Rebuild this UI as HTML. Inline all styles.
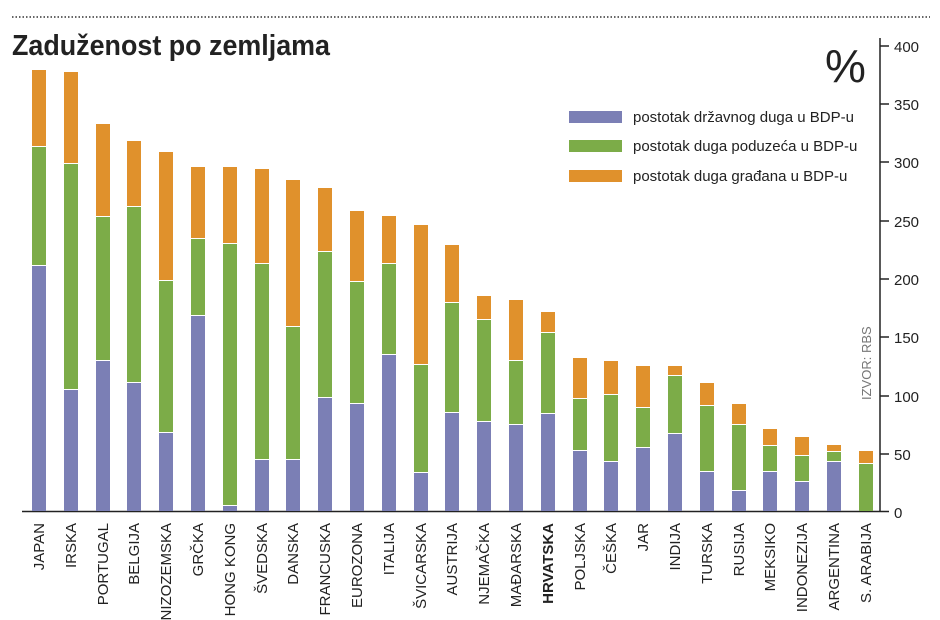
<!DOCTYPE html>
<html><head><meta charset="utf-8"><style>
body{margin:0;background:#fff;}
svg{display:block;font-family:"Liberation Sans",sans-serif;}
.b{fill:#7b7fb5}.g{fill:#7cac48}.o{fill:#e0912c}
.lab{font-size:15px;fill:#222;}
</style></head><body>
<svg width="940" height="620" viewBox="0 0 940 620">
<line x1="12" y1="17" x2="930" y2="17" stroke="#333" stroke-width="1.5" stroke-dasharray="1.5 2"/>
<text x="12" y="55" font-size="29" font-weight="bold" fill="#222" textLength="318" lengthAdjust="spacingAndGlyphs">Zaduženost po zemljama</text>
<text x="825" y="82" font-size="46" fill="#222">%</text>
<line x1="880" y1="38" x2="880" y2="512" stroke="#222" stroke-width="1.5"/>
<line x1="22" y1="511.5" x2="889" y2="511.5" stroke="#222" stroke-width="1.5"/>
<g stroke="#222" stroke-width="1.5">
<line x1="880" x2="889" y1="46" y2="46"/><line x1="880" x2="889" y1="104" y2="104"/><line x1="880" x2="889" y1="162" y2="162"/><line x1="880" x2="889" y1="221" y2="221"/><line x1="880" x2="889" y1="279" y2="279"/><line x1="880" x2="889" y1="337" y2="337"/><line x1="880" x2="889" y1="396" y2="396"/><line x1="880" x2="889" y1="454" y2="454"/>
</g>
<g font-size="15" fill="#222">
<text x="894" y="52">400</text><text x="894" y="110">350</text><text x="894" y="168">300</text><text x="894" y="227">250</text><text x="894" y="285">200</text><text x="894" y="343">150</text><text x="894" y="402">100</text><text x="894" y="460">50</text><text x="894" y="518">0</text>
</g>
<text transform="translate(871,400) rotate(-90)" font-size="13" fill="#777">IZVOR: RBS</text>
<rect x="569" y="111" width="53" height="12" class="b"/><text x="633" y="122" font-size="15" fill="#222">postotak državnog duga u BDP-u</text>
<rect x="569" y="140" width="53" height="12" class="g"/><text x="633" y="151" font-size="15" fill="#222">postotak duga poduzeća u BDP-u</text>
<rect x="569" y="170" width="53" height="12" class="o"/><text x="633" y="181" font-size="15" fill="#222">postotak duga građana u BDP-u</text>
<g id="bars"></g>
<g id="labels"></g>
<!-- bars -->
<g>
<rect class="b" x="32" y="266" width="14" height="245"/><rect class="g" x="32" y="147" width="14" height="118"/><rect class="o" x="32" y="70" width="14" height="76"/>
<rect class="b" x="64" y="390" width="14" height="121"/><rect class="g" x="64" y="164" width="14" height="225"/><rect class="o" x="64" y="72" width="14" height="91"/>
<rect class="b" x="96" y="361" width="14" height="150"/><rect class="g" x="96" y="217" width="14" height="143"/><rect class="o" x="96" y="124" width="14" height="92"/>
<rect class="b" x="127" y="383" width="14" height="128"/><rect class="g" x="127" y="207" width="14" height="175"/><rect class="o" x="127" y="141" width="14" height="65"/>
<rect class="b" x="159" y="433" width="14" height="78"/><rect class="g" x="159" y="281" width="14" height="151"/><rect class="o" x="159" y="152" width="14" height="128"/>
<rect class="b" x="191" y="316" width="14" height="195"/><rect class="g" x="191" y="239" width="14" height="76"/><rect class="o" x="191" y="167" width="14" height="71"/>
<rect class="b" x="223" y="506" width="14" height="5"/><rect class="g" x="223" y="244" width="14" height="261"/><rect class="o" x="223" y="167" width="14" height="76"/>
<rect class="b" x="255" y="460" width="14" height="51"/><rect class="g" x="255" y="264" width="14" height="195"/><rect class="o" x="255" y="169" width="14" height="94"/>
<rect class="b" x="286" y="460" width="14" height="51"/><rect class="g" x="286" y="327" width="14" height="132"/><rect class="o" x="286" y="180" width="14" height="146"/>
<rect class="b" x="318" y="398" width="14" height="113"/><rect class="g" x="318" y="252" width="14" height="145"/><rect class="o" x="318" y="188" width="14" height="63"/>
<rect class="b" x="350" y="404" width="14" height="107"/><rect class="g" x="350" y="282" width="14" height="121"/><rect class="o" x="350" y="211" width="14" height="70"/>
<rect class="b" x="382" y="355" width="14" height="156"/><rect class="g" x="382" y="264" width="14" height="90"/><rect class="o" x="382" y="216" width="14" height="47"/>
<rect class="b" x="414" y="473" width="14" height="38"/><rect class="g" x="414" y="365" width="14" height="107"/><rect class="o" x="414" y="225" width="14" height="139"/>
<rect class="b" x="445" y="413" width="14" height="98"/><rect class="g" x="445" y="303" width="14" height="109"/><rect class="o" x="445" y="245" width="14" height="57"/>
<rect class="b" x="477" y="422" width="14" height="89"/><rect class="g" x="477" y="320" width="14" height="101"/><rect class="o" x="477" y="296" width="14" height="23"/>
<rect class="b" x="509" y="425" width="14" height="86"/><rect class="g" x="509" y="361" width="14" height="63"/><rect class="o" x="509" y="300" width="14" height="60"/>
<rect class="b" x="541" y="414" width="14" height="97"/><rect class="g" x="541" y="333" width="14" height="80"/><rect class="o" x="541" y="312" width="14" height="20"/>
<rect class="b" x="573" y="451" width="14" height="60"/><rect class="g" x="573" y="399" width="14" height="51"/><rect class="o" x="573" y="358" width="14" height="40"/>
<rect class="b" x="604" y="462" width="14" height="49"/><rect class="g" x="604" y="395" width="14" height="66"/><rect class="o" x="604" y="361" width="14" height="33"/>
<rect class="b" x="636" y="448" width="14" height="63"/><rect class="g" x="636" y="408" width="14" height="39"/><rect class="o" x="636" y="366" width="14" height="41"/>
<rect class="b" x="668" y="434" width="14" height="77"/><rect class="g" x="668" y="376" width="14" height="57"/><rect class="o" x="668" y="366" width="14" height="9"/>
<rect class="b" x="700" y="472" width="14" height="39"/><rect class="g" x="700" y="406" width="14" height="65"/><rect class="o" x="700" y="383" width="14" height="22"/>
<rect class="b" x="732" y="491" width="14" height="20"/><rect class="g" x="732" y="425" width="14" height="65"/><rect class="o" x="732" y="404" width="14" height="20"/>
<rect class="b" x="763" y="472" width="14" height="39"/><rect class="g" x="763" y="446" width="14" height="25"/><rect class="o" x="763" y="429" width="14" height="16"/>
<rect class="b" x="795" y="482" width="14" height="29"/><rect class="g" x="795" y="456" width="14" height="25"/><rect class="o" x="795" y="437" width="14" height="18"/>
<rect class="b" x="827" y="462" width="14" height="49"/><rect class="g" x="827" y="452" width="14" height="9"/><rect class="o" x="827" y="445" width="14" height="6"/>
<rect class="g" x="859" y="464" width="14" height="47"/><rect class="o" x="859" y="451" width="14" height="12"/>
</g>
<g class="lab" text-anchor="end">
<text transform="translate(44,523) rotate(-90)">JAPAN</text>
<text transform="translate(76,523) rotate(-90)">IRSKA</text>
<text transform="translate(108,523) rotate(-90)">PORTUGAL</text>
<text transform="translate(139,523) rotate(-90)">BELGIJA</text>
<text transform="translate(171,523) rotate(-90)">NIZOZEMSKA</text>
<text transform="translate(203,523) rotate(-90)">GRČKA</text>
<text transform="translate(235,523) rotate(-90)">HONG KONG</text>
<text transform="translate(267,523) rotate(-90)">ŠVEDSKA</text>
<text transform="translate(298,523) rotate(-90)">DANSKA</text>
<text transform="translate(330,523) rotate(-90)">FRANCUSKA</text>
<text transform="translate(362,523) rotate(-90)">EUROZONA</text>
<text transform="translate(394,523) rotate(-90)">ITALIJA</text>
<text transform="translate(426,523) rotate(-90)">ŠVICARSKA</text>
<text transform="translate(457,523) rotate(-90)">AUSTRIJA</text>
<text transform="translate(489,523) rotate(-90)">NJEMAČKA</text>
<text transform="translate(521,523) rotate(-90)">MAĐARSKA</text>
<text transform="translate(553,523) rotate(-90)" font-weight="bold">HRVATSKA</text>
<text transform="translate(585,523) rotate(-90)">POLJSKA</text>
<text transform="translate(616,523) rotate(-90)">ČEŠKA</text>
<text transform="translate(648,523) rotate(-90)">JAR</text>
<text transform="translate(680,523) rotate(-90)">INDIJA</text>
<text transform="translate(712,523) rotate(-90)">TURSKA</text>
<text transform="translate(744,523) rotate(-90)">RUSIJA</text>
<text transform="translate(775,523) rotate(-90)">MEKSIKO</text>
<text transform="translate(807,523) rotate(-90)">INDONEZIJA</text>
<text transform="translate(839,523) rotate(-90)">ARGENTINA</text>
<text transform="translate(871,523) rotate(-90)">S. ARABIJA</text>
</g>
</svg>
</body></html>
